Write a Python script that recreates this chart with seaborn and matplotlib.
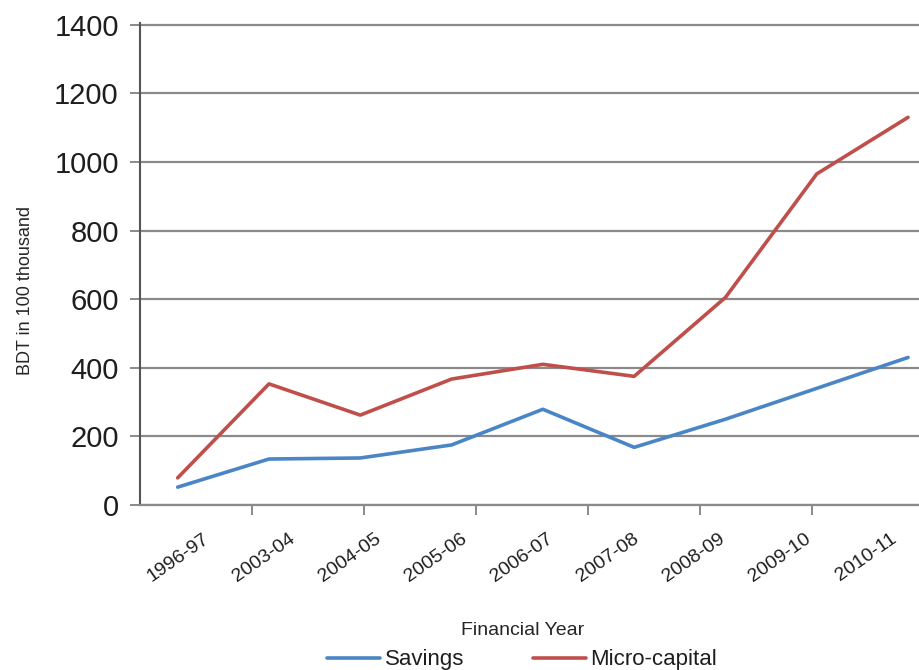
import numpy as np
import pandas as pd
import seaborn as sns
import matplotlib.pyplot as plt
from matplotlib.lines import Line2D

years = ['1996-97', '2003-04', '2004-05', '2005-06', '2006-07',
         '2007-08', '2008-09', '2009-10', '2010-11']
savings = [52, 134, 137, 175, 279, 168, 250, 340, 430]
micro_capital = [79, 353, 262, 367, 410, 375, 605, 965, 1130]

colors = {'Savings': '#4a86c5', 'Micro-capital': '#bf4f4b'}

data = pd.DataFrame({
    'pos': list(range(len(years))) * 2,
    'value': savings + micro_capital,
    'series': ['Savings'] * len(years) + ['Micro-capital'] * len(years),
})

sns.set_theme(style='white')
plt.rcParams['font.family'] = ['Liberation Sans', 'DejaVu Sans']
plt.rcParams['text.color'] = '#1e1e1e'

fig = plt.figure(figsize=(9.19, 6.70), dpi=100)
ax = fig.add_axes([0.152, 0.2463, 0.848, 0.7194])

sns.lineplot(data=data, x='pos', y='value', hue='series', palette=colors,
             linewidth=2.6, ax=ax, legend=False)

ax.set_xlim(-0.416, 8.12)
ax.set_ylim(0, 1405)

# y axis: big labels, gray gridlines
ax.set_yticks(range(0, 1401, 200))
ax.set_yticklabels([str(v) for v in range(0, 1401, 200)], fontsize=21)
ax.yaxis.grid(True, color='#8a8a8a', linewidth=1.6)
ax.tick_params(axis='y', which='major', left=True, length=7, width=1.2,
               color='#777777', pad=8, labelcolor='#1e1e1e')

# x axis: labels sit a bit tighter than the points in the original
ax.set_xticks(np.arange(len(years)) * 0.9425)
ax.set_xticklabels(years, rotation=35, ha='center', fontsize=14)
ax.tick_params(axis='x', which='major', length=0, pad=18, labelcolor='#1e1e1e')
ax.set_xticks(np.arange(-0.416 + 1.2274, 7.5, 1.2274), minor=True)
ax.tick_params(axis='x', which='minor', bottom=True, length=7, width=1.2,
               color='#777777')

for side in ['top', 'right']:
    ax.spines[side].set_visible(False)
ax.spines['left'].set_color('#555555')
ax.spines['left'].set_linewidth(1.5)
ax.spines['bottom'].set_color('#8a8a8a')
ax.spines['bottom'].set_linewidth(1.6)

ax.set_ylabel('BDT in 100 thousand', fontsize=13)
ax.yaxis.set_label_coords(-0.136, 0.446)
ax.set_xlabel('Financial Year', fontsize=14)
ax.xaxis.set_label_coords(0.4917, -0.243)

handles = [Line2D([], [], color=colors[k], linewidth=2.6) for k in colors]
fig.legend(handles, list(colors), loc='center', bbox_to_anchor=(522 / 919, 1 - 660 / 670),
           ncol=2, frameon=False, fontsize=16, handlelength=2.4,
           handletextpad=0.2, columnspacing=3.1)

fig.savefig('out.png', dpi=100)
